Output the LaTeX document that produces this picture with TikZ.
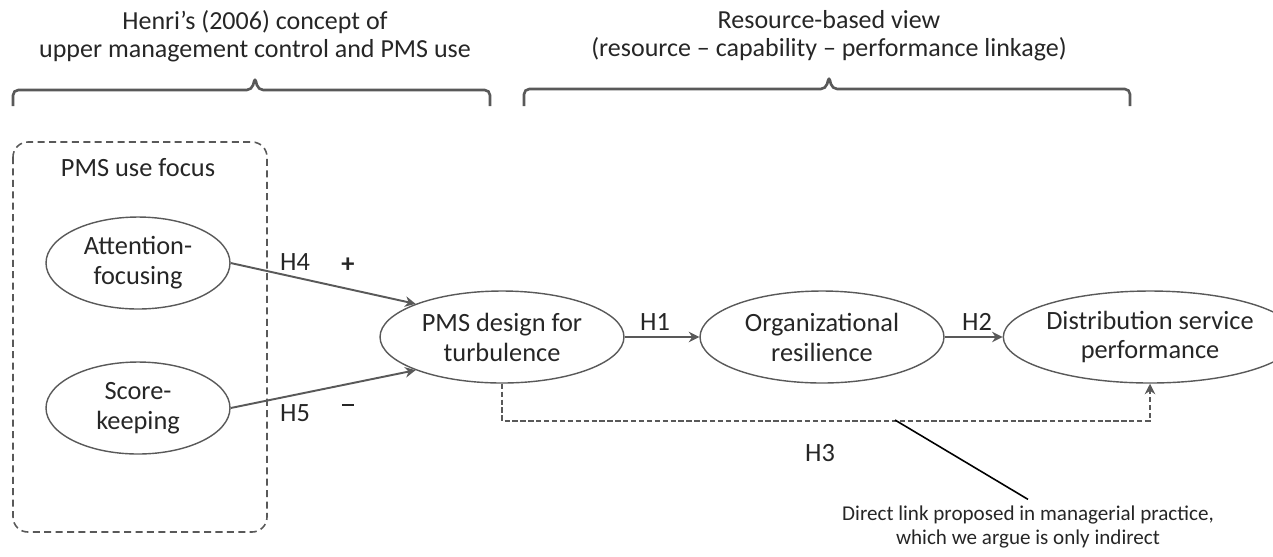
\documentclass[tikz,border=0pt]{standalone}
\usepackage{fontspec}
\setmainfont{Carlito}
\usepackage{xcolor}
\usetikzlibrary{shapes.geometric,arrows.meta,calc}
\definecolor{linegray}{HTML}{595959}
\definecolor{textdark}{HTML}{262626}

\begin{document}
\begin{tikzpicture}[x=0.02cm,y=-0.02cm,>=Stealth,text=textdark,
    font=\fontsize{14.8}{16}\selectfont,
    construct/.style={ellipse,draw=linegray,line width=0.8pt,inner sep=0pt,align=center,
      font=\fontsize{15}{17}\selectfont,minimum width=4.88cm,minimum height=1.84cm},
    usefocus/.style={construct,minimum width=3.68cm},
    link/.style={-{Stealth[length=6pt,width=6pt]},draw=linegray,line width=1.1pt},
    bracket/.style={draw=linegray,line width=1.5pt,rounded corners=3pt},
    hyp/.style={font=\fontsize{15}{17}\selectfont}]
    \useasboundingbox (0,0) rectangle (1273,556);
    % theory headings with their brackets
    \node[align=center] (henri) at (255,36) {Henri’s (2006) concept of\\upper management control and PMS use};
    \node[align=center] (rbv) at (829,36) {Resource-based view\\(resource – capability – performance linkage)};
    \draw[bracket] (13,106) -- (13,90) -- (252,90) -- (255,77) -- (258,90) -- (490,90) -- (490,106);
    \draw[bracket] (524,106) -- (524,89) -- (826,89) -- (829,76) -- (832,89) -- (1130,89) -- (1130,106);
    % dashed frame round the two uses
    \draw[draw=linegray,line width=0.9pt,dash pattern=on 4pt off 2.5pt,rounded corners=0.3cm] (13,142) rectangle (267,532);
    \node[font=\fontsize{15}{17}\selectfont] (focus) at (138,168) {PMS use focus};
    % constructs
    \node[usefocus] (att) at (138,263) {Attention-\\focusing};
    \node[usefocus] (score) at (138,408) {Score-\\keeping};
    \node[construct] (pms) at (502,337) {PMS design for\\turbulence};
    \node[construct] (org) at (822,337) {Organizational\\resilience};
    \node[construct] (dsp) at (1150,337) {Distribution service\\performance};
    % hypothesised paths
    \draw[link] (att.east) -- (pms.159);
    \draw[link] (score.east) -- (pms.201);
    \draw[link] (pms.east) -- (org.west);
    \draw[link] (org.east) -- (dsp.west);
    \draw[link,line width=0.9pt,dash pattern=on 3pt off 1.5pt] (pms.south) -- ++(0,37) -| (dsp.south);
    % path labels
    \node[hyp] (h4) at (295,262) {H4};
    \node[hyp] (plus) at (348,265) {\textbf{+}};
    \node[hyp] (h5) at (295,413) {H5};
    \node[hyp] (minus) at (348,405) {\rule{7pt}{1.6pt}};
    \node[hyp] (h1) at (655,322) {H1};
    \node[hyp] (h2) at (977,322) {H2};
    \node[hyp] (h3) at (820,453) {H3};
    % note on the direct link
    \coordinate (pin) at (895,420);
    \node[align=center,font=\fontsize{12}{14}\selectfont] (note) at (1028,527) {Direct link proposed in managerial practice,\\which we argue is only indirect};
    \draw[black,line width=0.9pt] (pin) -- (note.north);
\end{tikzpicture}
\end{document}
